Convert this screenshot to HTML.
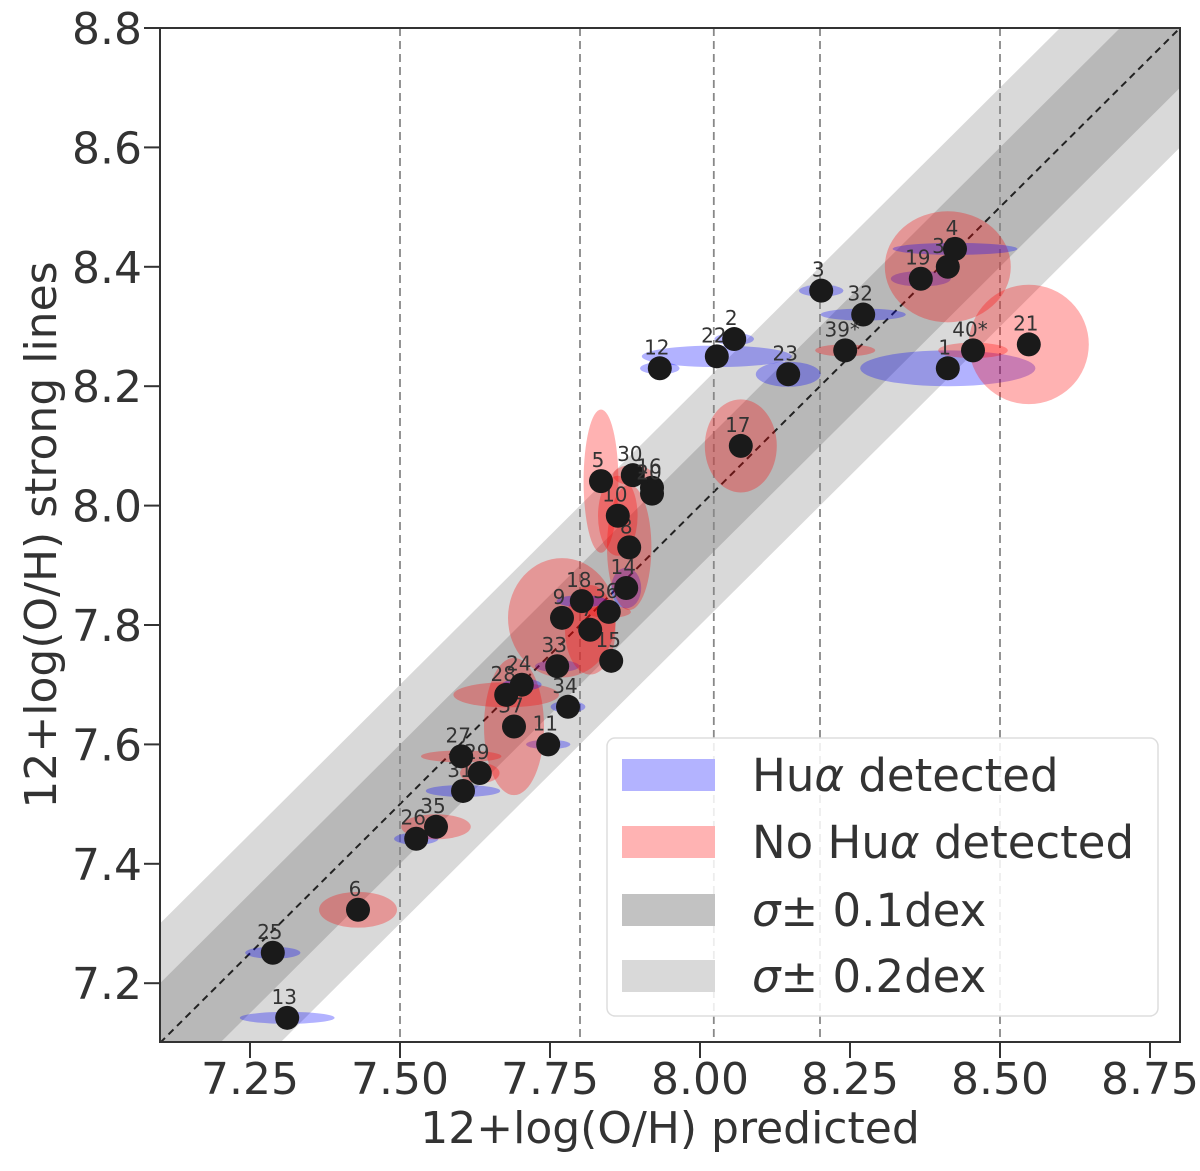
<!DOCTYPE html>
<html><head><meta charset="utf-8"><style>
html,body{margin:0;padding:0;background:#fff;overflow:hidden;width:1200px;height:1171px;}
svg{display:block;font-family:"DejaVu Sans","Liberation Sans",sans-serif;}
</style></head><body>
<svg id="chart" width="1200" height="1171" viewBox="0 0 1200 1171" xmlns="http://www.w3.org/2000/svg">
<defs><clipPath id="plotclip"><rect x="160" y="28" width="1020" height="1014"/></clipPath></defs>
<g id="bands" clip-path="url(#plotclip)"></g>
<g id="vlines" clip-path="url(#plotclip)"></g>
<g id="ells" clip-path="url(#plotclip)"></g>
<g id="dots" clip-path="url(#plotclip)"></g>
<g id="axes"></g>
<g id="legend">
<rect x="607" y="738" width="551" height="278" rx="8" fill="#fff" fill-opacity="0.85" stroke="#dddddd" stroke-width="1.5"/>
<rect x="622" y="759" width="93" height="32" fill="#b3b3ff"/>
<text x="752" y="791" font-size="45" fill="#333">Hu<tspan font-style="italic">α</tspan> detected</text>
<rect x="622" y="826" width="93" height="32" fill="#ffb3b3"/>
<text x="752" y="858" font-size="45" fill="#333">No Hu<tspan font-style="italic">α</tspan> detected</text>
<rect x="622" y="894" width="93" height="32" fill="#c2c2c2"/>
<text x="752" y="926" font-size="45" fill="#333"><tspan font-style="italic">σ</tspan>± 0.1dex</text>
<rect x="622" y="960" width="93" height="32" fill="#d9d9d9"/>
<text x="752" y="992" font-size="45" fill="#333"><tspan font-style="italic">σ</tspan>± 0.2dex</text>
</g>
</svg>
<script>
const labels = ["13","25","6","26","35","31","29","27","11","37","28","24","34","33","15","7","9","18","36","14","8","10","5","30","16","20","17","12","22","2","23","3","32","39*","1","40*","21","19","38","4"];
const predicted = [7.312,7.288,7.43,7.527,7.56,7.605,7.633,7.602,7.747,7.69,7.677,7.703,7.78,7.762,7.852,7.817,7.77,7.803,7.848,7.877,7.882,7.863,7.835,7.888,7.92,7.92,8.068,7.933,8.028,8.057,8.147,8.202,8.272,8.242,8.413,8.455,8.548,8.368,8.413,8.425];
const strong = [7.142,7.251,7.323,7.442,7.462,7.522,7.552,7.58,7.60,7.63,7.683,7.70,7.663,7.731,7.74,7.792,7.812,7.84,7.822,7.862,7.93,7.983,8.041,8.051,8.03,8.02,8.10,8.23,8.25,8.279,8.22,8.36,8.32,8.26,8.23,8.26,8.27,8.38,8.40,8.43];
const huaDetected = [1,1,0,1,0,1,0,0,1,0,0,1,1,1,0,0,0,1,0,1,0,0,0,0,0,0,0,1,1,1,1,1,1,0,1,0,0,1,0,1];
const errX = [0.079,0.046,0.065,0.037,0.058,0.062,0.033,0.067,0.037,0.05,0.088,0.033,0.029,0.037,0.01,0.042,0.09,0.042,0.037,0.025,0.037,0.033,0.029,0.033,0.01,0.01,0.06,0.033,0.125,0.033,0.054,0.037,0.071,0.05,0.146,0.058,0.1,0.05,0.105,0.104];
const errY = [0.01,0.01,0.03,0.01,0.021,0.01,0.017,0.01,0.008,0.115,0.021,0.01,0.01,0.01,0.01,0.075,0.10,0.01,0.01,0.034,0.105,0.067,0.12,0.017,0.01,0.01,0.078,0.01,0.018,0.01,0.021,0.01,0.01,0.01,0.03,0.013,0.1,0.013,0.093,0.01];
const xTicks = [7.25,7.50,7.75,8.00,8.25,8.50,8.75];
const xTickLabels = ["7.25","7.50","7.75","8.00","8.25","8.50","8.75"];
const yTicks = [7.2,7.4,7.6,7.8,8.0,8.2,8.4,8.6,8.8];
const yTickLabels = ["7.2","7.4","7.6","7.8","8.0","8.2","8.4","8.6","8.8"];
const vLines = [7.5,7.8,8.023,8.2,8.5];
const bandWidths = [0.2,0.1];

const X0=160,X1=1180,Y0=28,Y1=1042,VMIN=7.1,VMAX=8.8;
const xs=v=>X0+(v-VMIN)*600;
const ys=v=>Y0+(VMAX-v)*597;
const NS="http://www.w3.org/2000/svg";
function mk(tag,attrs,parent){const e=document.createElementNS(NS,tag);for(const k in attrs)e.setAttribute(k,attrs[k]);parent.appendChild(e);return e;}
const gB=document.getElementById('bands'),gV=document.getElementById('vlines'),gE=document.getElementById('ells'),gD=document.getElementById('dots'),gA=document.getElementById('axes');
const bandCols=["#d9d9d9","#b8b8b8"];
bandWidths.forEach((w,i)=>{
  const a=VMIN-0.5,b=VMAX+0.5;
  const p=mk('polygon',{points:`${xs(a)},${ys(a+w)} ${xs(b)},${ys(b+w)} ${xs(b)},${ys(b-w)} ${xs(a)},${ys(a-w)}`,fill:bandCols[i]},gB);
  
  
});
const diag=mk('line',{x1:xs(VMIN),y1:ys(VMIN),x2:xs(VMAX),y2:ys(VMAX),stroke:"#222","stroke-width":2,"stroke-dasharray":"7,5"},gB);


vLines.forEach(v=>{
  const l=mk('line',{x1:xs(v),y1:Y0,x2:xs(v),y2:Y1,stroke:"#888","stroke-width":1.8,"stroke-dasharray":"8,5"},gV);
  
  
});
labels.forEach((lab,i)=>{
  const e=mk('ellipse',{cx:xs(predicted[i]),cy:ys(strong[i]),rx:errX[i]*600,ry:errY[i]*597,fill:huaDetected[i]?"rgba(0,0,255,0.3)":"rgba(255,0,0,0.3)"},gE);
  
  
});
labels.forEach((lab,i)=>{
  const c=mk('circle',{cx:xs(predicted[i]),cy:ys(strong[i]),r:12,fill:"#1a1a1a"},gD);
  
  
  const t=mk('text',{x:xs(predicted[i])-3,y:ys(strong[i])-14,"font-size":20,fill:"#333","text-anchor":"middle"},gD);
  t.textContent=lab;
  
  
});
const frame=mk('rect',{x:X0,y:Y0,width:X1-X0,height:Y1-Y0,fill:"none",stroke:"#333","stroke-width":2},gA);


xTicks.forEach((v,i)=>{
  const l=mk('line',{x1:xs(v),y1:Y1,x2:xs(v),y2:Y1+16,stroke:"#333","stroke-width":2},gA);
  
  
  const t=mk('text',{x:xs(v),y:1094,"font-size":44,fill:"#333","text-anchor":"middle"},gA);
  t.textContent=xTickLabels[i];
  
  
});
yTicks.forEach((v,i)=>{
  const l=mk('line',{x1:X0-16,y1:ys(v),x2:X0,y2:ys(v),stroke:"#333","stroke-width":2},gA);
  
  
  const t=mk('text',{x:142,y:ys(v)+16,"font-size":44,fill:"#333","text-anchor":"end"},gA);
  t.textContent=yTickLabels[i];
  
  
});
const xt=mk('text',{x:670,y:1143,"font-size":44,fill:"#333","text-anchor":"middle"},gA);
xt.textContent="12+log(O/H) predicted";


const yt=mk('text',{x:0,y:0,"font-size":44,fill:"#333","text-anchor":"middle",transform:"translate(56,535) rotate(-90)"},gA);
yt.textContent="12+log(O/H) strong lines";


</script>
</body></html>
